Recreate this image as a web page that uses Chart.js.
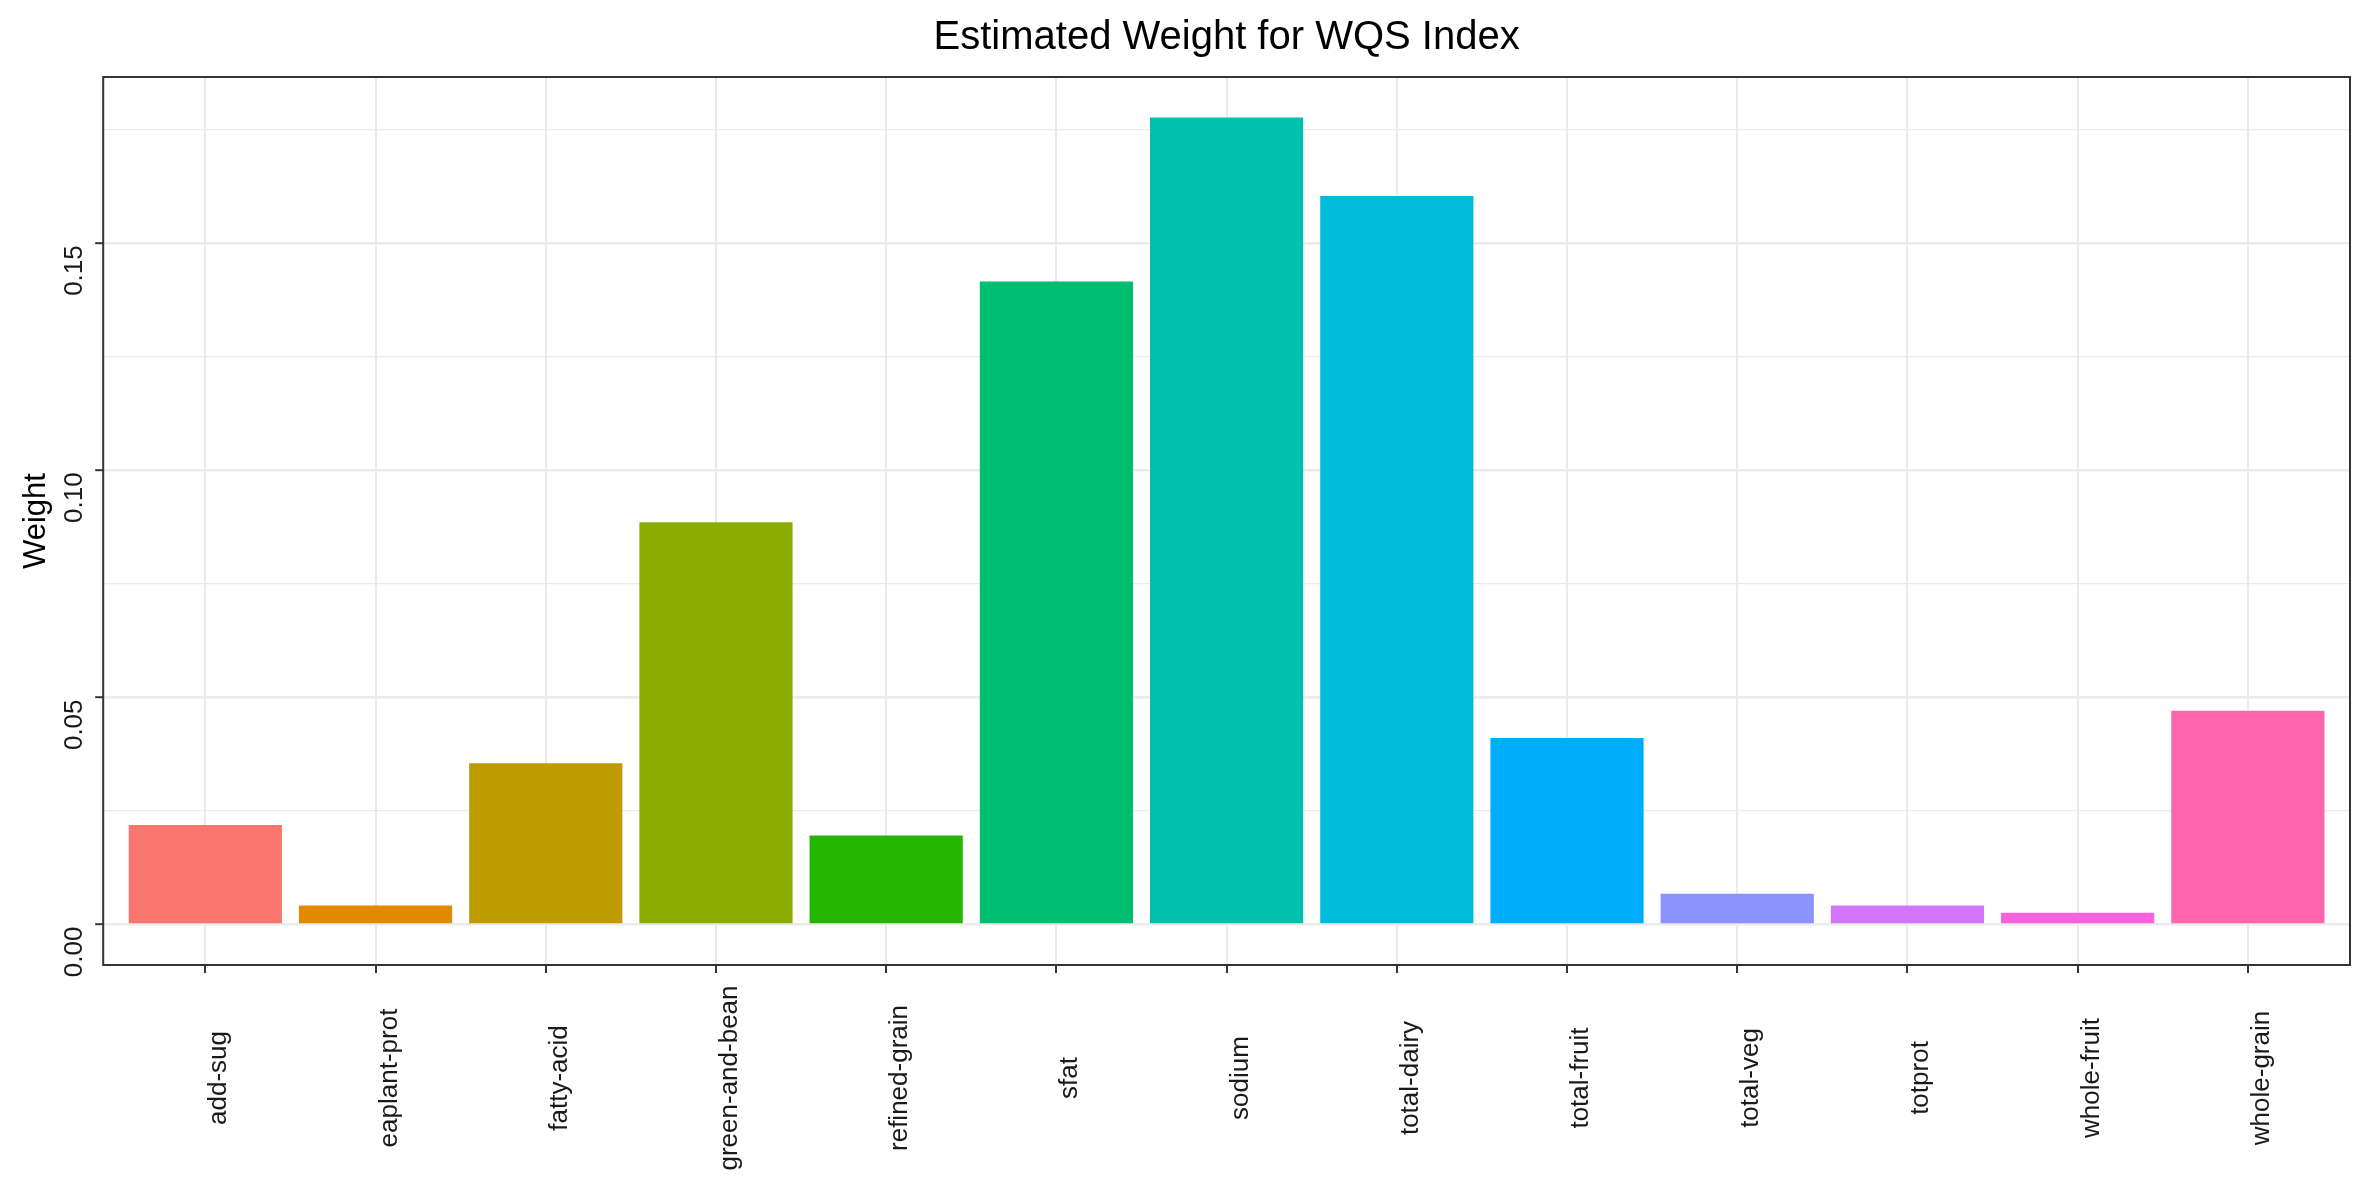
<!DOCTYPE html>
<html>
<head>
<meta charset="utf-8">
<script src="https://cdn.jsdelivr.net/npm/chart.js@4.4.1/dist/chart.umd.min.js"></script>
<style>
  html, body { margin: 0; padding: 0; background: #fff; }
  canvas { display: block; }
</style>
</head>
<body>
<canvas id="chart" width="2374" height="1195"></canvas>
<script>
// Data
const categories = ["add-sug", "eaplant-prot", "fatty-acid", "green-and-bean", "refined-grain",
    "sfat", "sodium", "total-dairy", "total-fruit", "total-veg", "totprot", "whole-fruit", "whole-grain"];
const weights = [0.0219, 0.0042, 0.0355, 0.0886, 0.0196, 0.1416, 0.1777, 0.1604, 0.0411, 0.0068, 0.0042, 0.0026, 0.0471];
const barColors = ["#F8766D", "#E18A00", "#BE9C00", "#8CAB00", "#24B700", "#00BE70", "#00C1AB",
    "#00BBDA", "#00ACFC", "#8B93FF", "#D575FE", "#F962DD", "#FF65AC"];
const yTicks = [0, 0.025, 0.05, 0.075, 0.10, 0.125, 0.15, 0.175];
const yTickLabels = ["0.00", "", "0.05", "", "0.10", "", "0.15", ""];
const yMin = -0.0089;
const yMax = 0.1866;

const tickFont = '26px "Liberation Sans", Arial, sans-serif';
const textDark = '#1A1A1A';
const gridGrey = '#EBEBEB';
const frame = '#333333';

// Panel border plus rotated tick labels (ggplot style)
const ggDecor = {
    id: 'ggDecor',
    afterDraw(chart) {
        const ctx = chart.ctx;
        const a = chart.chartArea;
        const xs = chart.scales.x;
        const ys = chart.scales.y;
        ctx.save();
        ctx.strokeStyle = frame;
        ctx.lineWidth = 2;
        ctx.strokeRect(a.left, a.top, a.right - a.left, a.bottom - a.top);

        ctx.fillStyle = textDark;
        ctx.font = tickFont;
        // x labels, vertical, centred in the strip under the panel
        ctx.textAlign = 'center';
        ctx.textBaseline = 'alphabetic';
        categories.forEach((c, i) => {
            const px = xs.getPixelForValue(i);
            ctx.save();
            ctx.translate(px + 21, 1078);
            ctx.rotate(-Math.PI / 2);
            ctx.fillText(c, 0, 0);
            ctx.restore();
        });
        // y labels, vertical, ending at the tick
        ctx.textAlign = 'right';
        yTicks.forEach((v, i) => {
            if (!yTickLabels[i]) return;
            const py = ys.getPixelForValue(v);
            ctx.save();
            ctx.translate(82, py + 2);
            ctx.rotate(-Math.PI / 2);
            ctx.fillText(yTickLabels[i], 0, 0);
            ctx.restore();
        });
        ctx.restore();
    }
};

new Chart(document.getElementById('chart'), {
    type: 'bar',
    data: {
        datasets: [{
            label: 'Weight',
            data: weights.map((v, i) => ({ x: i, y: v })),
            backgroundColor: barColors,
            borderWidth: 0,
            barPercentage: 0.9,
            categoryPercentage: 1.0
        }]
    },
    options: {
        responsive: false,
        devicePixelRatio: 1,
        animation: false,
        layout: { padding: { left: 0, right: 24, top: 0, bottom: 222 } },
        plugins: {
            legend: { display: false },
            tooltip: { enabled: false },
            title: {
                display: true,
                text: 'Estimated Weight for WQS Index',
                fullSize: false,
                color: '#000',
                font: { family: '"Liberation Sans", Arial, sans-serif', size: 40, weight: 'normal' },
                padding: { top: 14, bottom: 15 }
            }
        },
        scales: {
            x: {
                type: 'linear',
                // discrete axis expanded by 0.6 of a step on each side, as ggplot does
                min: -0.6,
                max: categories.length - 0.4,
                offset: false,
                border: { display: false },
                afterBuildTicks: (scale) => {
                    scale.ticks = categories.map((c, i) => ({ value: i }));
                },
                grid: {
                    offset: false,
                    color: gridGrey,
                    lineWidth: 2,
                    tickColor: frame,
                    tickLength: 8,
                    tickWidth: 2
                },
                ticks: { display: false }
            },
            y: {
                min: yMin,
                max: yMax,
                border: { display: false },
                afterBuildTicks: (scale) => {
                    scale.ticks = yTicks.map(v => ({ value: v }));
                },
                grid: {
                    color: gridGrey,
                    lineWidth: (c) => (c.index % 2 === 0 ? 2.4 : 1.3),
                    tickColor: (c) => (c.index % 2 === 0 ? frame : 'rgba(0,0,0,0)'),
                    tickLength: 8,
                    tickWidth: 2
                },
                ticks: { display: false },
                title: {
                    display: true,
                    text: 'Weight',
                    color: '#000',
                    font: { family: '"Liberation Sans", Arial, sans-serif', size: 31 },
                    padding: { top: 18, bottom: 40 }
                }
            }
        }
    },
    plugins: [ggDecor]
});
</script>
</body>
</html>
